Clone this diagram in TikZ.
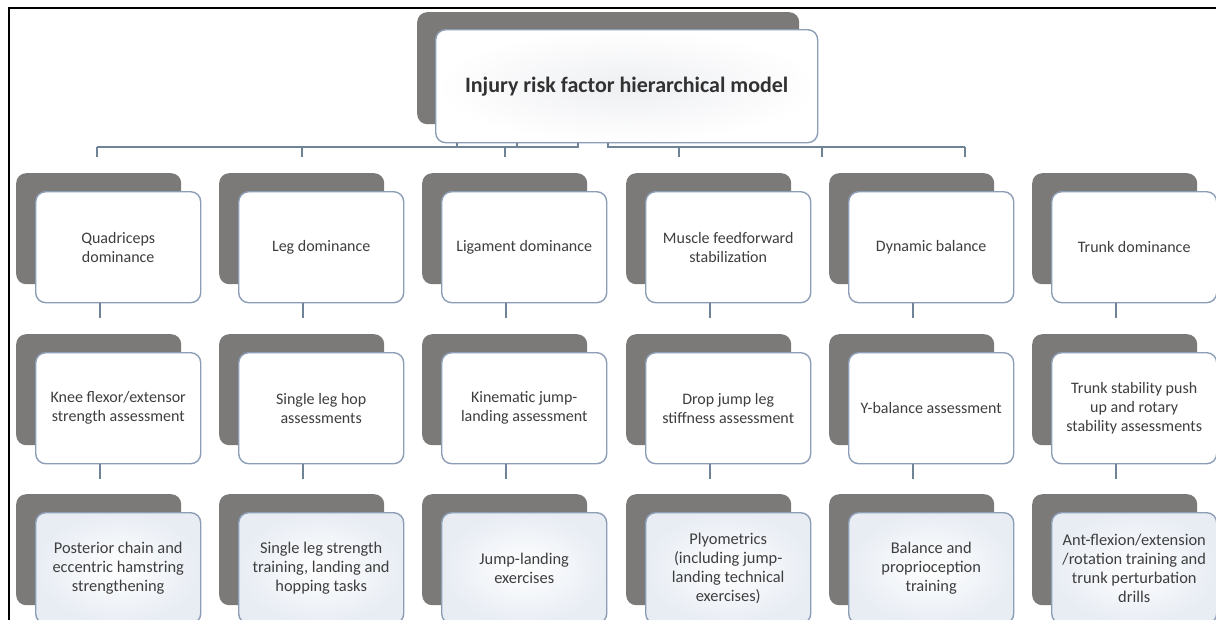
\documentclass[tikz,border=0pt]{standalone}
\usepackage{fontspec}
\setmainfont{Carlito}
\definecolor{shade}{RGB}{124,122,120}
\definecolor{rim}{RGB}{140,157,182}
\definecolor{ink}{RGB}{62,62,62}
\definecolor{mist}{RGB}{232,237,244}
\definecolor{pale}{RGB}{238,239,242}
\definecolor{wire}{RGB}{112,132,152}
\tikzset{
  backcard/.style={fill=shade, draw=none, rounded corners=10pt, anchor=north west,
    inner sep=0pt, minimum width=165pt, minimum height=111pt},
  card/.style={draw=rim, line width=1.4pt, fill=white, rounded corners=10pt,
    anchor=north west, inner sep=0pt, minimum width=165pt, minimum height=111pt,
    text=ink, align=center, font=\fontsize{16}{19}\selectfont},
  lowcard/.style={card, inner color=white, outer color=mist, font=\fontsize{16.4}{19}\selectfont},
  wire/.style={draw=wire, line width=1.4pt},
  frame/.style={draw=black, line width=2.2pt}
}
\begin{document}
\begin{tikzpicture}[x=1pt, y=-1pt]
\useasboundingbox (0,0) rectangle (1216,619);
\clip (0,0) rectangle (1216,619);
\fill[white] (0,0) rectangle (1216,619);

% outer frame (top and left edges)
\draw[frame] (9,625) -- (9,8) -- (1225,8);

% title card
\node[backcard, minimum width=382pt, minimum height=112pt] (topback) at (417,12) {};
\node[card, inner color=pale, outer color=white, minimum width=382pt, minimum height=113pt,
      font=\fontsize{22}{26}\selectfont\bfseries, text={rgb,255:red,50;green,50;blue,50}]
      (top) at (435,29) {Injury risk factor hierarchical model};

% shadow cards behind the three rows
\foreach \x in {35,238,441,645,848,1051} {
  \foreach \y in {191,352,512} {
    \node[backcard] at (\x-19,\y-18) {};
  }
}

% row 1: risk factors
\node[card] (f1) at (35,191)   {Quadriceps\\dominance};
\node[card] (f2) at (238,191)  {Leg dominance};
\node[card] (f3) at (441,191)  {Ligament dominance};
\node[card] (f4) at (645,191)  {Muscle feedforward\\stabilization};
\node[card] (f5) at (848,191)  {Dynamic balance};
\node[card] (f6) at (1051,191) {Trunk dominance};

% row 2: assessments
\node[card] (a1) at (35,352)   {Knee flexor/extensor\\strength assessment};
\node[card] (a2) at (238,352)  {Single leg hop\\assessments};
\node[card] (a3) at (441,352)  {Kinematic jump-\\landing assessment};
\node[card] (a4) at (645,352)  {Drop jump leg\\stiffness assessment};
\node[card] (a5) at (848,352)  {Y-balance assessment};
\node[card] (a6) at (1051,352) {Trunk stability push\\up and rotary\\stability assessments};

% row 3: training
\node[lowcard] (t1) at (35,512)   {Posterior chain and\\eccentric hamstring\\strengthening};
\node[lowcard] (t2) at (238,512)  {Single leg strength\\training, landing and\\hopping tasks};
\node[lowcard] (t3) at (441,512)  {Jump-landing\\exercises};
\node[lowcard] (t4) at (645,512)  {Plyometrics\\(including jump-\\landing technical\\exercises)};
\node[lowcard] (t5) at (848,512)  {Balance and\\proprioception\\training};
\node[lowcard] (t6) at (1051,512) {Ant-flexion/extension\\/rotation training and\\trunk perturbation\\drills};

% bus under the title card
\coordinate (busA) at (97,147);
\coordinate (busB) at (578,147);
\coordinate (busC) at (608,147);
\coordinate (busD) at (965,147);
\draw[wire] (busA) -- (busB) -- (busB |- top.south);
\draw[wire] (busC |- top.south) -- (busC) -- (busD);
\draw[wire] ([xshift=22pt]top.south west) -- ([xshift=22pt]top.south west |- busA);
\draw[wire] ([xshift=82pt]top.south west) -- ([xshift=82pt]top.south west |- busA);
\foreach \k in {97,302,505,679,822,965} {
  \coordinate (drop\k) at (\k,147);
  \draw[wire] (drop\k) -- ++(0,10);
}

% stubs below the cards of rows 1 and 2
\foreach \n in {f1,f2,f3,f4,f5,f6,a1,a2,a3,a4,a5,a6} {
  \draw[wire] ([xshift=65pt]\n.south west) -- ++(0,15);
}
\end{tikzpicture}
\end{document}
